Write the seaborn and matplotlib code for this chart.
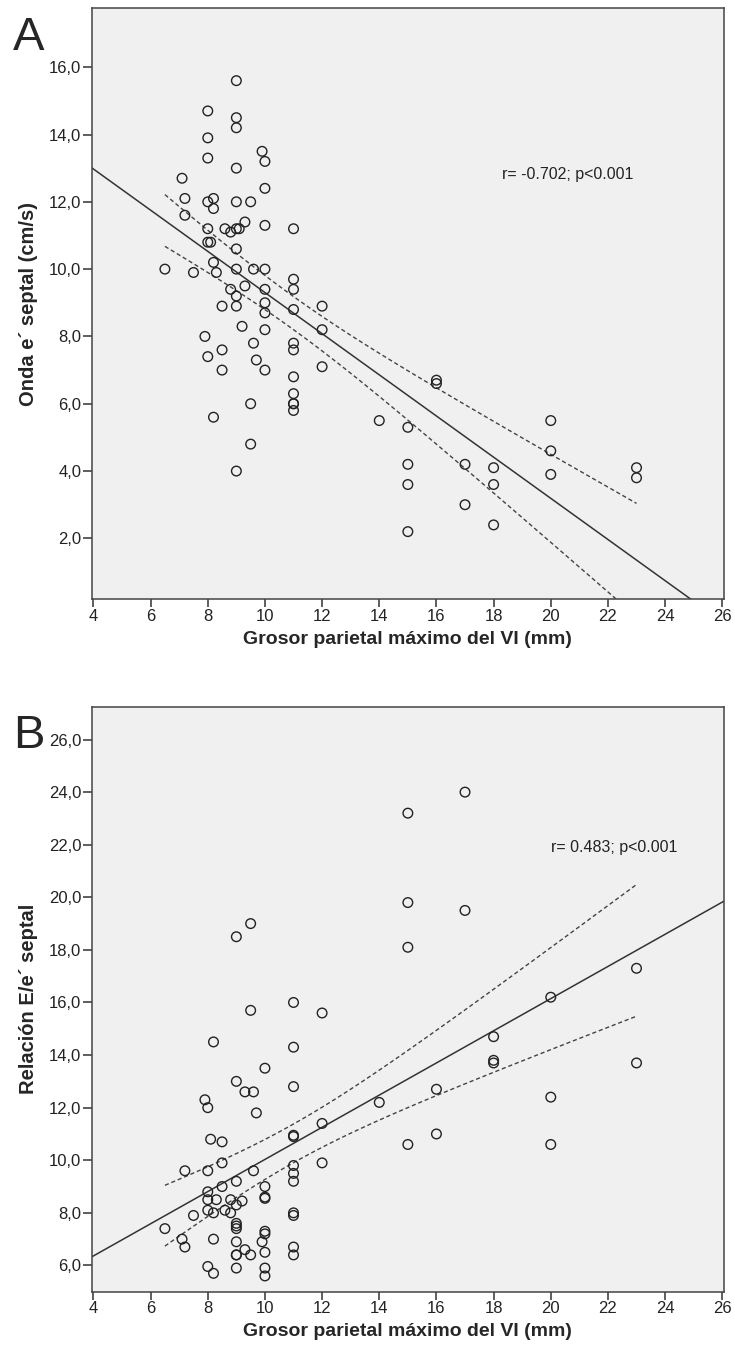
import numpy as np
import pandas as pd
import seaborn as sns
import matplotlib.pyplot as plt
from matplotlib.ticker import FuncFormatter, MultipleLocator

# === DATA ===
grosor_a = [9, 8, 9, 9, 8, 9.9, 10, 8, 9, 7.1, 10, 7.2, 8, 8.2, 9, 9.5, 8.2, 7.2,
            9.3, 10, 11, 8, 8.6, 8.8, 9, 9.1, 8, 8.1, 9, 6.5, 7.5, 8.2, 8.3, 9,
            9.6, 10, 11, 11, 9.3, 8.8, 9, 10, 8.5, 9, 10, 10, 12, 11, 9.2, 10,
            12, 7.9, 9.6, 11, 11, 8.5, 8, 9.7, 8.5, 10, 12, 11, 11, 11, 11, 11,
            9.5, 8.2, 9.5, 9, 16, 16, 14, 15, 15, 15, 15, 17, 17, 18, 18, 18,
            20, 20, 20, 23, 23]
onda_e = [15.6, 14.7, 14.5, 14.2, 13.9, 13.5, 13.2, 13.3, 13.0, 12.7, 12.4, 12.1,
          12.0, 12.1, 12.0, 12.0, 11.8, 11.6, 11.4, 11.3, 11.2, 11.2, 11.2, 11.1,
          11.2, 11.2, 10.8, 10.8, 10.6, 10.0, 9.9, 10.2, 9.9, 10.0, 10.0, 10.0,
          9.7, 9.4, 9.5, 9.4, 9.2, 9.4, 8.9, 8.9, 9.0, 8.7, 8.9, 8.8, 8.3, 8.2,
          8.2, 8.0, 7.8, 7.8, 7.6, 7.6, 7.4, 7.3, 7.0, 7.0, 7.1, 6.8, 6.3, 6.0,
          6.0, 5.8, 6.0, 5.6, 4.8, 4.0, 6.7, 6.6, 5.5, 5.3, 4.2, 3.6, 2.2, 4.2,
          3.0, 4.1, 3.6, 2.4, 5.5, 4.6, 3.9, 4.1, 3.8]

grosor_b = [9, 9.5, 9.5, 11, 12, 17, 15, 15, 17, 15, 23, 20, 18, 18, 18, 23, 16,
            14, 20, 16, 15, 20, 8.2, 11, 10, 11, 9, 9.3, 9.6, 7.9, 8, 9.7, 11, 11,
            12, 8.1, 8.5, 12, 11, 11, 11, 8.5, 7.2, 8, 9.6, 9, 8.5, 10, 10, 10, 8,
            8, 8.3, 8.8, 9.2, 9, 7.5, 8, 8.2, 8.6, 8.8, 11, 11, 6.5, 9, 9, 9, 10,
            10, 9.9, 7.1, 7.2, 8.2, 9, 9.3, 9.5, 9, 9, 10, 11, 11, 8, 8.2, 9, 10,
            10]
relacion_ee = [18.5, 19.0, 15.7, 16.0, 15.6, 24.0, 23.2, 19.8, 19.5, 18.1, 17.3,
               16.2, 14.7, 13.8, 13.7, 13.7, 12.7, 12.2, 12.4, 11.0, 10.6, 10.6,
               14.5, 14.3, 13.5, 12.8, 13.0, 12.6, 12.6, 12.3, 12.0, 11.8, 10.9,
               10.95, 11.4, 10.8, 10.7, 9.9, 9.8, 9.5, 9.2, 9.9, 9.6, 9.6, 9.6,
               9.2, 9.0, 9.0, 8.6, 8.55, 8.8, 8.5, 8.5, 8.5, 8.45, 8.3, 7.9, 8.1,
               8.0, 8.1, 8.0, 8.0, 7.9, 7.4, 7.6, 7.5, 7.4, 7.3, 7.2, 6.9, 7.0,
               6.7, 7.0, 6.9, 6.6, 6.4, 6.4, 6.4, 6.5, 6.7, 6.4, 5.96, 5.7, 5.9,
               5.9, 5.6]

panel_letters = ["A", "B"]
ylabels = ["Onda e\u00b4 septal (cm/s)", "Relaci\u00f3n E/e\u00b4 septal"]
xlabel = "Grosor parietal m\u00e1ximo del VI (mm)"
stats_txt = ["r= -0.702; p<0.001", "r= 0.483; p<0.001"]


def fit_lines(x, y, xlim):
    # OLS line over the full x range + 95% CI of the mean over the data range
    x = np.asarray(x, float)
    y = np.asarray(y, float)
    n = len(x)
    b, a = np.polyfit(x, y, 1)
    resid = y - (a + b * x)
    s = np.sqrt((resid ** 2).sum() / (n - 2))
    sxx = ((x - x.mean()) ** 2).sum()
    t = 1.988  # t(0.975, ~85 df)
    xs = np.linspace(x.min(), x.max(), 100)
    se = s * np.sqrt(1.0 / n + (xs - x.mean()) ** 2 / sxx)
    full = pd.DataFrame({"x": list(xlim), "y": [a + b * xlim[0], a + b * xlim[1]]})
    band = pd.DataFrame({"x": xs, "lo": a + b * xs - t * se, "hi": a + b * xs + t * se})
    return full, band


sns.set_style("ticks", {"axes.facecolor": "#f0f0f0"})
plt.rcParams["font.family"] = ["Liberation Sans", "DejaVu Sans"]

fig = plt.figure(figsize=(7.35, 13.6), dpi=100)
ax_a = fig.add_axes([0.1248, 0.5596, 0.985 - 0.1248, 0.9939 - 0.5596])
ax_b = fig.add_axes([0.1248, 0.0502, 0.985 - 0.1248, 0.4804 - 0.0502])

panels = [
    (ax_a, grosor_a, onda_e, (0.2, 17.75), (2, 16)),
    (ax_b, grosor_b, relacion_ee, (5.0, 27.25), (6, 26)),
]
xlim = (3.94, 26.06)
txt_pos = [(18.3, 12.8), (20.0, 21.9)]
letter_y = [0.972, 0.459]

comma = FuncFormatter(lambda v, p: f"{v:.1f}".replace(".", ","))

for i, (ax, x, y, ylim, yt) in enumerate(panels):
    df = pd.DataFrame({"x": x, "y": y})
    full, band = fit_lines(x, y, xlim)
    sns.lineplot(data=full, x="x", y="y", ax=ax, color="#333333", lw=1.1)
    sns.lineplot(data=band, x="x", y="lo", ax=ax, color="#444444", lw=1.0,
                 linestyle=(0, (3, 2)))
    sns.lineplot(data=band, x="x", y="hi", ax=ax, color="#444444", lw=1.0,
                 linestyle=(0, (3, 2)))
    sns.scatterplot(data=df, x="x", y="y", ax=ax, marker="o", s=48,
                    facecolor="none", edgecolor="#222222", linewidth=1.0, zorder=3)

    ax.set_xlim(*xlim)
    ax.set_ylim(*ylim)
    ax.xaxis.set_major_locator(MultipleLocator(2))
    ax.set_yticks(np.arange(yt[0], yt[1] + 0.1, 2))
    ax.yaxis.set_major_formatter(comma)
    ax.tick_params(axis="both", direction="out", width=1.1,
                   color="#333333", labelsize=12, labelcolor="#222222")
    ax.tick_params(axis="y", length=6.5, pad=1)
    ax.tick_params(axis="x", length=6, pad=1)
    for sp in ax.spines.values():
        sp.set_visible(True)
        sp.set_color("#444444")
        sp.set_linewidth(1.1)
    ax.set_xlabel(xlabel, fontsize=14, fontweight="bold", labelpad=5)
    ax.set_ylabel(ylabels[i], fontsize=14.5, fontweight="bold", labelpad=8)
    ax.text(*txt_pos[i], stats_txt[i], fontsize=11.5, va="center", ha="left",
            color="#222222")
    fig.text(0.018, letter_y[i], panel_letters[i], fontsize=34, va="center", ha="left")

fig.savefig("out.png", dpi=100)
